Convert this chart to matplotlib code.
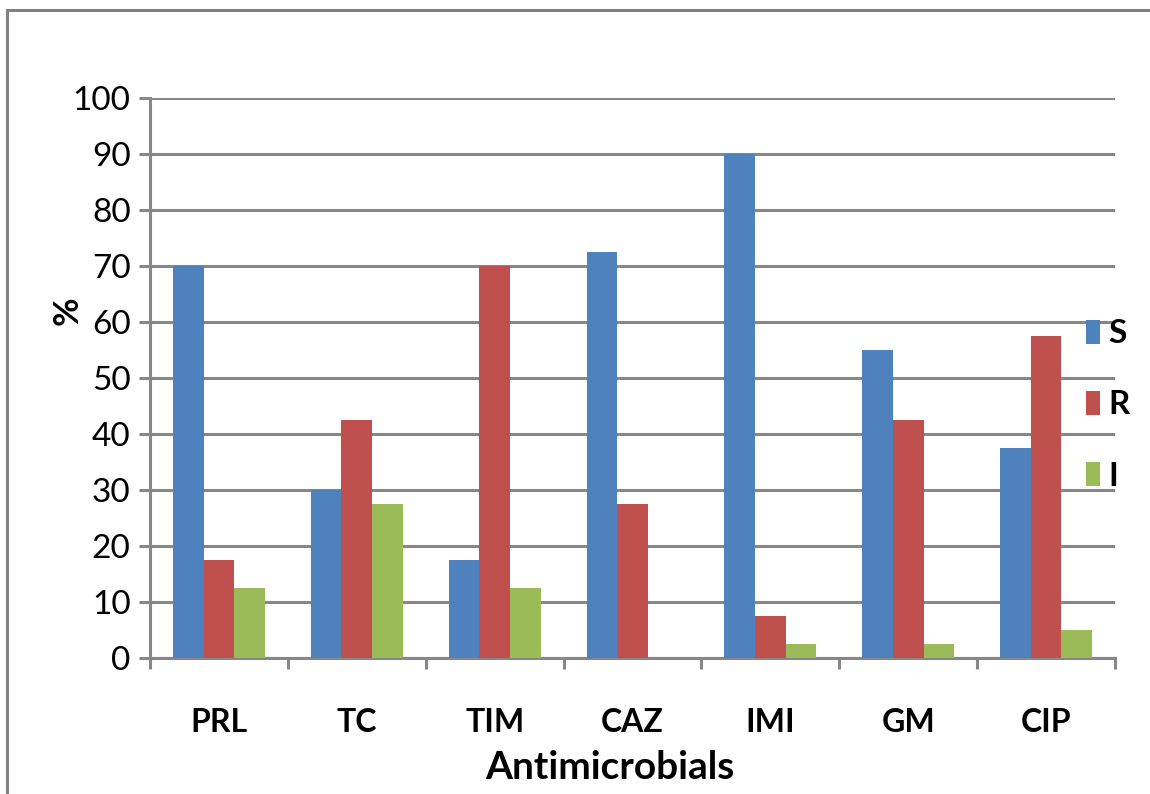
import matplotlib.pyplot as plt
from matplotlib.lines import Line2D
import numpy as np

plt.rcParams['font.family'] = ['Lato', 'DejaVu Sans']

drugs = ['PRL', 'TC', 'TIM', 'CAZ', 'IMI', 'GM', 'CIP']
s_vals = [70, 30, 17.5, 72.5, 90, 55, 37.5]
r_vals = [17.5, 42.5, 70, 27.5, 7.5, 42.5, 57.5]
i_vals = [12.5, 27.5, 12.5, 0, 2.5, 2.5, 5]

series = [('S', s_vals, '#4F81BD'), ('R', r_vals, '#C0504D'), ('I', i_vals, '#9BBB59')]

fig = plt.figure(figsize=(11.5, 7.94), dpi=100)
ax = fig.add_axes([150/1150, 1-658/794, 965/1150, 560/794])

x = np.arange(len(drugs))
w = 0.222
for k, (name, vals, col) in enumerate(series):
    ax.bar(x + (k-1)*w, vals, width=w, color=col, label=name, zorder=3)

ax.set_xlim(-0.5, len(drugs)-0.5)
ax.set_ylim(0, 100)
ax.set_yticks(range(0, 101, 10))
grey = '#878787'
ax.yaxis.grid(True, color=grey, linewidth=2.2, zorder=0)

for sp in ['top', 'right']:
    ax.spines[sp].set_visible(False)
for sp in ['left', 'bottom']:
    ax.spines[sp].set_color(grey)
    ax.spines[sp].set_linewidth(2.2)

ax.set_xticks(x)
ax.set_xticklabels(drugs, fontsize=23, fontweight='bold')
ax.set_xticks(np.arange(-0.5, len(drugs)), minor=True)
ax.tick_params(axis='x', which='major', length=0, pad=36)
ax.tick_params(axis='x', which='minor', length=8, width=2.2, color=grey)
ax.tick_params(axis='y', length=8, width=2.2, color=grey, labelsize=24, pad=6)

ax.set_xlabel('Antimicrobials', fontsize=28, fontweight='bold', va='center')
ax.xaxis.set_label_coords(0.477, -0.195)
ax.set_ylabel('%', fontsize=25, fontweight='bold', va='center')
ax.yaxis.set_label_coords(-0.085, 0.621)

leg = fig.legend(loc='center left', bbox_to_anchor=(1086/1150, 1-405/794), frameon=False,
                 prop={'size': 24, 'weight': 'bold'}, handlelength=0.42, handleheight=0.73,
                 handletextpad=0.25, labelspacing=1.27, borderpad=0, borderaxespad=0)

# outer frame (left and top edges only visible)
fig.add_artist(Line2D([7/1150, 7/1150], [0, 1-10/794], color='#808080', linewidth=2.2))
fig.add_artist(Line2D([7/1150, 1], [1-10/794, 1-10/794], color='#808080', linewidth=2.2))

fig.savefig('out.png', dpi=100)
